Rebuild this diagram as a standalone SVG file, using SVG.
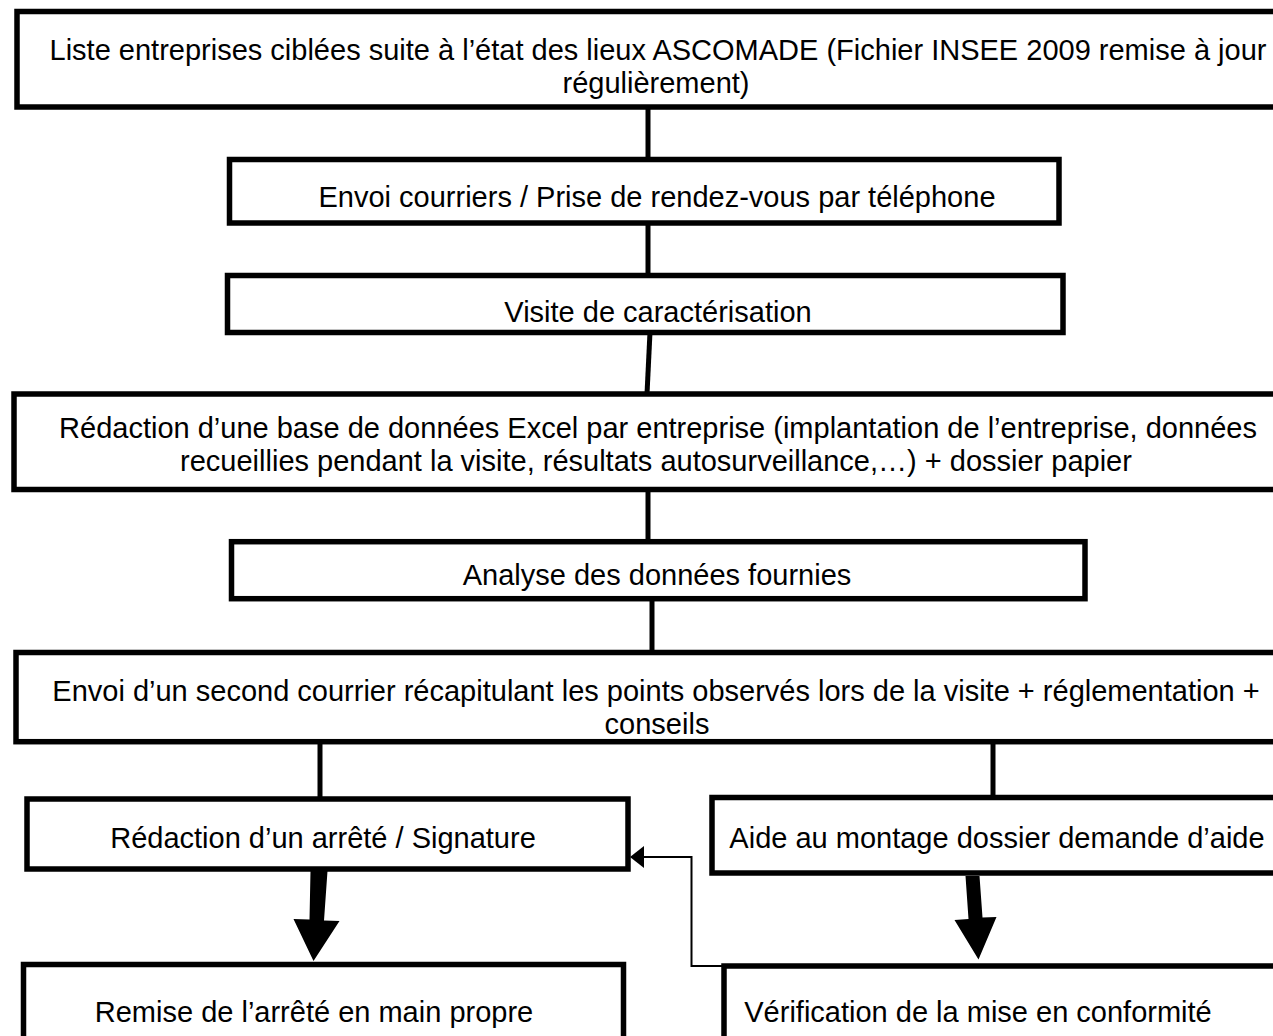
<svg xmlns="http://www.w3.org/2000/svg" width="1273" height="1036" viewBox="0 0 1273 1036">
<style>
.box{fill:#fff;stroke:#000;stroke-width:5.5}
.t{font-family:"Liberation Sans",Arial,sans-serif;font-size:29px;fill:#000;text-anchor:middle}
.c{stroke:#000;stroke-width:5;fill:none}
.thin{stroke:#000;stroke-width:2;fill:none}
</style>
<rect width="1273" height="1036" fill="#fff"/>
<g id="connectors">
<line class="c" x1="648" y1="107" x2="648" y2="159"/>
<line class="c" x1="648" y1="223" x2="648" y2="275"/>
<line class="c" x1="650" y1="332" x2="647" y2="394"/>
<line class="c" x1="648" y1="489" x2="648" y2="542"/>
<line class="c" x1="652" y1="598" x2="652" y2="653"/>
<line class="c" x1="320" y1="742" x2="320" y2="799"/>
<line class="c" x1="993" y1="742" x2="993" y2="797"/>
<polygon points="310.5,871 327.5,871 324,920.5 339.5,921 313.5,961 293.5,919 309.5,919.5" fill="#000"/>
<polygon points="965.5,876 979.5,876 982.5,917.5 996.5,917 978.5,959.5 954.5,920 968.5,919" fill="#000"/>
<polyline class="thin" points="722,966 691.5,966 691.5,857 644,857"/>
<path d="M630,857 L644,846 L644,868 Z" fill="#000"/>
</g>
<g id="n1">
<rect class="box" x="17" y="11.5" width="1280" height="95.5"/>
<text class="t" x="658" y="60">Liste entreprises ciblées suite à l’état des lieux ASCOMADE (Fichier INSEE 2009 remise à jour</text>
<text class="t" x="656" y="93">régulièrement)</text>
</g>
<g id="n2">
<rect class="box" x="229.5" y="159.5" width="829.5" height="63.5"/>
<text class="t" x="657" y="207">Envoi courriers / Prise de rendez-vous par téléphone</text>
</g>
<g id="n3">
<rect class="box" x="227.5" y="275.5" width="835.5" height="57"/>
<text class="t" x="658" y="322">Visite de caractérisation</text>
</g>
<g id="n4">
<rect class="box" x="14" y="394" width="1283" height="95.5"/>
<text class="t" x="658" y="438">Rédaction d’une base de données Excel par entreprise (implantation de l’entreprise, données</text>
<text class="t" x="656" y="471">recueillies pendant la visite, résultats autosurveillance,…) + dossier papier</text>
</g>
<g id="n5">
<rect class="box" x="231.5" y="541.7" width="853.5" height="57"/>
<text class="t" x="657" y="585">Analyse des données fournies</text>
</g>
<g id="n6">
<rect class="box" x="16" y="652.5" width="1281" height="89.2"/>
<text class="t" x="656" y="701">Envoi d’un second courrier récapitulant les points observés lors de la visite + réglementation +</text>
<text class="t" x="657" y="734">conseils</text>
</g>
<g id="n7">
<rect class="box" x="27" y="799" width="601" height="70"/>
<text class="t" x="323" y="848">Rédaction d’un arrêté / Signature</text>
</g>
<g id="n8">
<rect class="box" x="712" y="797.5" width="585" height="75.5"/>
<text class="t" x="997" y="848">Aide au montage dossier demande d’aide</text>
</g>
<g id="n9">
<rect class="box" x="23.5" y="964.5" width="600" height="100"/>
<text class="t" x="314" y="1022">Remise de l’arrêté en main propre</text>
</g>
<g id="n10">
<rect class="box" x="724" y="966" width="573" height="100"/>
<text class="t" x="978" y="1022">Vérification de la mise en conformité</text>
</g>
</svg>
